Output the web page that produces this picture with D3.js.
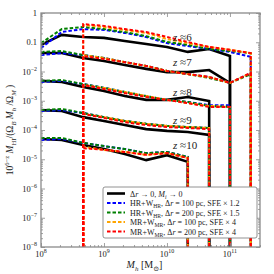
<!DOCTYPE html>
<html>
<head>
<meta charset="utf-8">
<script src="https://cdn.jsdelivr.net/npm/d3@7"></script>
<style>
body { margin: 0; background: #fff; }
svg { display: block; }
text { font-family: "Liberation Serif", "DejaVu Serif", serif; fill: #222; }
</style>
</head>
<body>
<svg id="chart" width="274" height="274"></svg>
<script>
// halo mass grid, log10(Mh / Msun)
var logMh = [8, 8.33, 8.67, 9, 9.33, 9.67, 10, 10.33, 10.67, 11, 11.33];
var redshifts = ["6", "7", "8", "9", "10"];

// log10 of 10^(6-z) M_HI / (Omega_B Mh / Omega_M); null = no HI (drops off the plot)
var exactLog = [
    [-1.09, -0.75, -0.82, -0.85, -0.96, -1.06, -1.16, -1.33, -1.23, -1.47, null],
    [-1.37, -1.37, -1.54, -1.64, -1.78, -1.91, -2.02, -2.02, -1.95, -2.39, null],
    [-2.32, -2.36, -2.53, -2.67, -2.84, -2.97, -2.97, -2.87, -3.01, null, null],
    [-3.32, -3.35, -3.56, -3.69, -3.83, -3.97, -4.03, -4.07, -4.17, null, null],
    [-4.31, -4.34, -4.51, -4.65, -4.82, -5.03, -4.86, -5.09, null, null, null]
];
var hr100Log = [
    [-1.20, -0.65, -0.55, -0.58, -0.68, -0.82, -1.03, -1.13, -1.23, -1.33, -1.50],
    [-1.44, -1.37, -1.44, -1.54, -1.68, -1.81, -1.98, -2.09, -2.19, -2.39, -2.05],
    [-2.36, -2.32, -2.43, -2.56, -2.70, -2.84, -2.97, -3.04, -3.15, -3.15, null],
    [-3.35, -3.32, -3.42, -3.56, -3.69, -3.79, -3.86, -3.90, -3.93, null, null],
    [-4.34, -4.31, -4.44, -4.55, -4.65, -4.79, -4.75, -4.92, null, null, null]
];
var hr200Log = [
    [-1.03, -0.55, -0.48, -0.55, -0.65, -0.79, -0.99, -1.09, -1.23, -1.30, -1.37],
    [-1.33, -1.30, -1.44, -1.54, -1.68, -1.81, -1.98, -2.09, -2.22, -2.39, -2.09],
    [-2.32, -2.29, -2.43, -2.56, -2.70, -2.84, -2.97, -3.04, -3.18, -3.21, null],
    [-3.32, -3.28, -3.42, -3.56, -3.69, -3.79, -3.86, -3.90, -3.93, null, null],
    [-4.27, -4.27, -4.44, -4.55, -4.65, -4.79, -4.75, -4.92, null, null, null]
];
var mr100Log = [
    [null, null, -0.41, -0.48, -0.58, -0.68, -0.89, -1.03, -1.16, -1.26, -1.37],
    [null, null, -1.44, -1.54, -1.68, -1.81, -1.98, -2.09, -2.19, -2.39, -2.05],
    [null, null, -2.46, -2.56, -2.70, -2.84, -2.97, -3.08, -3.18, -3.21, null],
    [null, null, -3.45, -3.56, -3.69, -3.79, -3.86, -3.90, -3.93, null, null],
    [null, null, -4.58, -4.68, -4.75, -4.85, -4.79, -4.96, null, null, null]
];
var mr200Log = [
    [null, null, -0.38, -0.44, -0.55, -0.65, -0.82, -0.99, -1.16, -1.26, -1.37],
    [null, null, -1.47, -1.57, -1.68, -1.81, -1.98, -2.09, -2.19, -2.39, -2.05],
    [null, null, -2.46, -2.60, -2.74, -2.87, -2.97, -3.08, -3.21, -3.21, null],
    [null, null, -3.45, -3.59, -3.73, -3.83, -3.90, -3.93, -3.97, null, null],
    [null, null, -4.62, -4.68, -4.75, -4.85, -4.79, -4.96, null, null, null]
];

// where the z labels sit (Mh, value)
var zLabelMh = 1.25e10;
var zLabelVal = [0.11, 0.0155, 1.45e-3, 1.6e-4, 2.2e-5];

var xTickExp = [8, 9, 10, 11];
var yTickExp = [0, -1, -2, -3, -4, -5, -6, -7, -8];

var models = [
    {data: exactLog, color: "#000000", dash: null, width: 2.6,
     label: [["Δ", ""], ["r", "it"], [" → 0, ", ""], ["M", "it"], ["i", "itsub"], [" → 0", ""]]},
    {data: hr100Log, color: "#0000ff", dash: "3.5,2", width: 2,
     label: [["HR+W", ""], ["HR", "sub"], [", Δ", ""], ["r", "it"], [" = 100 pc, SFE × 1.2", ""]]},
    {data: hr200Log, color: "#008000", dash: "3.5,2", width: 2,
     label: [["HR+W", ""], ["HR", "sub"], [", Δ", ""], ["r", "it"], [" = 200 pc, SFE × 1.5", ""]]},
    {data: mr100Log, color: "#ffa500", dash: "3.5,2", width: 2,
     label: [["MR+W", ""], ["MR", "sub"], [", Δ", ""], ["r", "it"], [" = 100 pc, SFE × 4", ""]]},
    {data: mr200Log, color: "#ff0000", dash: "3.5,2", width: 2,
     label: [["MR+W", ""], ["MR", "sub"], [", Δ", ""], ["r", "it"], [" = 200 pc, SFE × 4", ""]]}
];

var width = 274, height = 274;
var margin = {left: 41, right: 14, top: 13, bottom: 27};
var gray = "#8a8a8a";

var svg = d3.select("#chart");

var x = d3.scaleLog().domain([1e8, 3e11]).range([margin.left, width - margin.right]);
var y = d3.scaleLog().domain([1e-8, 1]).range([height - margin.bottom, margin.top]);

// text with italic / sub / sup pieces
function rich(sel, parts, fs) {
    var shift = 0;
    parts.forEach(function (p) {
        var target = 0, size = fs;
        if (p[1].indexOf("sub") >= 0) { target = fs * 0.28; size = fs * 0.7; }
        if (p[1].indexOf("sup") >= 0) { target = -fs * 0.42; size = fs * 0.7; }
        var t = sel.append("tspan").text(p[0])
            .attr("dy", target - shift)
            .attr("font-size", size);
        if (p[1].indexOf("it") >= 0) t.attr("font-style", "italic");
        shift = target;
    });
}

svg.append("defs").append("clipPath").attr("id", "plot")
    .append("rect")
    .attr("x", x.range()[0]).attr("y", y.range()[1])
    .attr("width", x.range()[1] - x.range()[0])
    .attr("height", y.range()[0] - y.range()[1]);

// one path per run of data, dropping straight down where HI runs out
function seriesPath(vals) {
    var pts = [];
    var floor = 1e-30;
    for (var i = 0; i < vals.length; i++) {
        if (vals[i] === null) continue;
        var m = Math.pow(10, logMh[i]);
        if (i > 0 && vals[i - 1] === null) pts.push([x(m), y(floor)]);
        pts.push([x(m), y(Math.pow(10, vals[i]))]);
        if (i === vals.length - 1 || vals[i + 1] === null) pts.push([x(m), y(floor)]);
    }
    return d3.line()(pts);
}

var lines = svg.append("g").attr("clip-path", "url(#plot)");
models.forEach(function (mod) {
    mod.data.forEach(function (vals) {
        lines.append("path")
            .attr("d", seriesPath(vals))
            .attr("fill", "none")
            .attr("stroke", mod.color)
            .attr("stroke-width", mod.width)
            .attr("stroke-dasharray", mod.dash)
            .attr("stroke-linejoin", "miter");
    });
});

// z labels
redshifts.forEach(function (z, i) {
    var t = svg.append("text")
        .attr("x", x(zLabelMh))
        .attr("y", y(zLabelVal[i]))
        .attr("font-size", 11);
    rich(t, [["z", "it"], [" ≈" + z, ""]], 11);
});

// ticks on all four sides, pointing in
function minors(lo, hi) {
    var out = [];
    for (var e = lo; e < hi; e++) {
        for (var k = 2; k <= 9; k++) out.push(k * Math.pow(10, e));
    }
    return out;
}
var xMajor = xTickExp.map(function (e) { return Math.pow(10, e); });
var xMinor = minors(8, 12).filter(function (v) { return v <= 3e11; });
var yMajor = yTickExp.map(function (e) { return Math.pow(10, e); });
var yMinor = minors(-8, 0);

function tickSet(axisFn, scale, vals, size, tx, ty) {
    svg.append("g")
        .attr("transform", "translate(" + tx + "," + ty + ")")
        .call(axisFn(scale).tickValues(vals).tickSize(size).tickFormat(""))
        .call(function (g) { g.select(".domain").remove(); })
        .selectAll("line").attr("stroke", gray).attr("stroke-width", 0.8);
}
var x0 = x.range()[0], x1 = x.range()[1], y0 = y.range()[0], y1 = y.range()[1];
tickSet(d3.axisBottom, x, xMajor, -4, 0, y0);
tickSet(d3.axisBottom, x, xMinor, -2, 0, y0);
tickSet(d3.axisTop, x, xMajor, -4, 0, y1);
tickSet(d3.axisTop, x, xMinor, -2, 0, y1);
tickSet(d3.axisLeft, y, yMajor, -4, x0, 0);
tickSet(d3.axisLeft, y, yMinor, -2, x0, 0);
tickSet(d3.axisRight, y, yMajor, -4, x1, 0);
tickSet(d3.axisRight, y, yMinor, -2, x1, 0);

svg.append("rect")
    .attr("x", x0).attr("y", y1)
    .attr("width", x1 - x0).attr("height", y0 - y1)
    .attr("fill", "none").attr("stroke", gray).attr("stroke-width", 1.3);

// tick labels
xTickExp.forEach(function (e) {
    var t = svg.append("text")
        .attr("x", x(Math.pow(10, e)))
        .attr("y", y0 + 10)
        .attr("text-anchor", "middle")
        .attr("font-size", 8.5);
    rich(t, [["10", ""], [String(e), "sup"]], 8.5);
});
yTickExp.forEach(function (e) {
    var t = svg.append("text")
        .attr("x", x0 - 4)
        .attr("y", y(Math.pow(10, e)) + 3)
        .attr("text-anchor", "end")
        .attr("font-size", 8.5);
    if (e === 0) rich(t, [["1", ""]], 8.5);
    else if (e === -1) rich(t, [["0.1", ""]], 8.5);
    else rich(t, [["10", ""], ["−" + (-e), "sup"]], 8.5);
});

// axis titles
var xt = svg.append("text")
    .attr("x", (x0 + x1) / 2 - 6)
    .attr("y", height - 6)
    .attr("text-anchor", "middle")
    .attr("font-size", 10);
rich(xt, [["M", "it"], ["h", "itsub"], [" [M", ""], ["⊙", "sub"], ["]", ""]], 10);

var yt = svg.append("text")
    .attr("transform", "translate(13," + ((y0 + y1) / 2) + ") rotate(-90)")
    .attr("text-anchor", "middle")
    .attr("font-size", 9.5);
rich(yt, [["10", ""], ["6−z", "sup"], [" ", ""], ["M", "it"], ["HI", "sub"], ["/(Ω", ""], ["B", "itsub"],
          [" ", ""], ["M", "it"], ["h", "itsub"], [" /Ω", ""], ["M", "itsub"], [" )", ""]], 9.5);

// legend
var lg = svg.append("g").attr("transform", "translate(103,187)");
lg.append("rect")
    .attr("width", 154).attr("height", 51).attr("rx", 2)
    .attr("fill", "#fff").attr("stroke", "#777").attr("stroke-width", 0.8);
models.forEach(function (mod, i) {
    var ry = 6.5 + i * 9.5;
    lg.append("line")
        .attr("x1", 4).attr("x2", 22).attr("y1", ry).attr("y2", ry)
        .attr("stroke", mod.color).attr("stroke-width", mod.width)
        .attr("stroke-dasharray", mod.dash);
    var t = lg.append("text").attr("x", 27).attr("y", ry + 3).attr("font-size", 8);
    rich(t, mod.label, 8);
});
</script>
</body>
</html>
